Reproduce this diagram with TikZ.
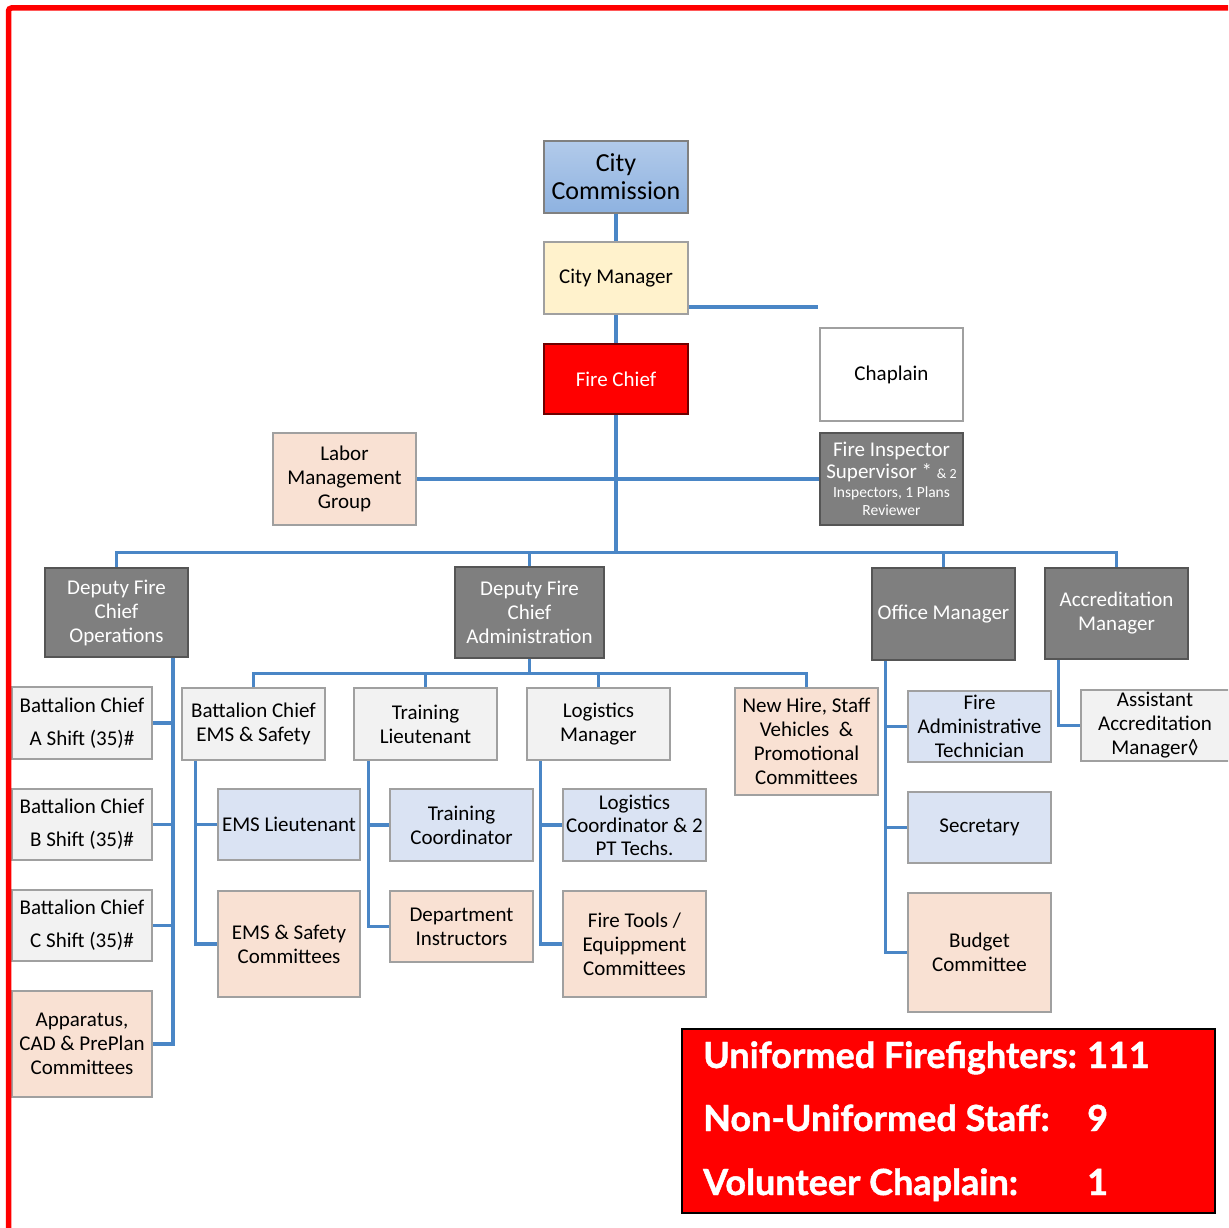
\documentclass[tikz,border=0pt]{standalone}
\usepackage{fontspec}
\setmainfont{Carlito}
\newfontfamily\statfont[FakeBold=1.2]{Lato}
\definecolor{conn}{RGB}{74,134,198}
\definecolor{bxgray}{RGB}{160,160,160}
\definecolor{dkfill}{RGB}{127,127,127}
\definecolor{dkborder}{RGB}{85,85,85}
\definecolor{ltgray}{RGB}{242,242,242}
\definecolor{ltblue}{RGB}{218,227,243}
\definecolor{peach}{RGB}{249,225,211}
\definecolor{cream}{RGB}{255,242,204}
\definecolor{firered}{RGB}{255,0,0}
\definecolor{ccTop}{RGB}{178,202,234}
\definecolor{ccBot}{RGB}{142,178,224}
\begin{document}
\begin{tikzpicture}[x=1pt,y=-1pt,
  box/.style={draw=bxgray, line width=1.5, inner sep=0pt, align=center,
    font=\fontsize{21}{24}\selectfont, text=black},
  sz/.style 2 args={minimum width=#1, minimum height=#2},
  dark/.style={box, fill=dkfill, draw=dkborder, text=white},
  lgray/.style={box, fill=ltgray},
  lblue/.style={box, fill=ltblue},
  pch/.style={box, fill=peach},
  link/.style={draw=conn, line width=3.2},
  stat/.style={anchor=base west, text=white, inner sep=0pt,
    font=\statfont\bfseries\fontsize{36}{38}\selectfont}
]
\useasboundingbox (0,0) rectangle (1228,1228);
\clip (0,0) rectangle (1228,1228);
\fill[white] (0,0) rectangle (1228,1228);

% top chain
\node[box, sz={144}{72}, draw=gray, top color=ccTop, bottom color=ccBot,
  font=\fontsize{26}{28}\selectfont] (cc) at (616,177) {City\\Commission};
\node[box, sz={144}{72}, fill=cream] (cm) at (616,278) {City Manager};
\node[box, sz={144}{70}, fill=firered, draw={rgb,255:red,110;green,0;blue,0}, text=white] (fc) at (616,379) {Fire Chief};
\node[box, sz={143}{93}, fill=white] (chap) at (891.5,374.5) {Chaplain};
\node[dark, sz={143}{92}] (fis) at (891.5,479)
  {Fire Inspector\\[-2pt]Supervisor * {\fontsize{14}{16}\selectfont \& 2}\\[-5pt]
   {\fontsize{15.5}{17}\selectfont Inspectors, 1 Plans}\\[-6pt]{\fontsize{15.5}{17}\selectfont Reviewer}};
\node[pch, sz={143}{92}] (lmg) at (344.5,479) {Labor\\Management\\Group};

% level 2
\node[dark, sz={143}{89}] (dops) at (116.5,612.5) {Deputy Fire\\Chief\\Operations};
\node[dark, sz={149}{91}] (dadm) at (529.5,612.5) {Deputy Fire\\Chief\\Administration};
\node[dark, sz={143}{92}] (om) at (943.5,614) {Office Manager};
\node[dark, sz={143}{91}] (am) at (1116.5,613.5) {Accreditation\\Manager};

% operations children
\node[lgray, sz={140}{72}, font=\fontsize{21}{33}\selectfont] (bca) at (82,723) {Battalion Chief\\A Shift (35)\#};
\node[lgray, sz={140}{71}, font=\fontsize{21}{33}\selectfont] (bcb) at (82,824.5) {Battalion Chief\\B Shift (35)\#};
\node[lgray, sz={140}{71}, font=\fontsize{21}{33}\selectfont] (bcc) at (82,925.5) {Battalion Chief\\C Shift (35)\#};
\node[pch, sz={140}{106}] (app) at (82,1044) {Apparatus,\\CAD \& PrePlan\\Committees};

% administration children
\node[lgray, sz={143}{72}] (bce) at (253.5,724) {Battalion Chief\\EMS \& Safety};
\node[lgray, sz={143}{72}] (tl) at (425.5,724) {Training\\Lieutenant};
\node[lgray, sz={143}{72}] (lm) at (598.5,724) {Logistics\\Manager};
\node[pch, sz={143}{107}] (nh) at (806.5,741.5) {New Hire, Staff\\Vehicles\ \ \&\\Promotional\\Committees};

\node[lblue, sz={142}{71}] (emsl) at (289,824.5) {EMS Lieutenant};
\node[pch, sz={142}{106}] (emsc) at (289,944) {EMS \& Safety\\Committees};
\node[lblue, sz={143}{72}] (tc) at (461.5,825) {Training\\Coordinator};
\node[pch, sz={143}{71}] (di) at (461.5,926.5) {Department\\Instructors};
\node[lblue, sz={143}{72}, font=\fontsize{21}{23}\selectfont] (lc) at (634.5,825) {Logistics\\Coordinator \& 2\\PT Techs.};
\node[pch, sz={143}{106}] (ft) at (634.5,944) {Fire Tools /\\Equippment\\Committees};

% office manager children
\node[lblue, sz={143}{71}] (fat) at (979.5,726.5) {Fire\\Administrative\\Technician};
\node[lblue, sz={143}{71}] (sec) at (979.5,827.5) {Secretary};
\node[pch, sz={143}{119}] (bud) at (979.5,952.5) {Budget\\Committee};

% accreditation child
\node[lgray, sz={148}{71}] (aam) at (1155,725.5) {Assistant\\Accreditation\\Manager◊};

% connectors
\coordinate (cmend) at (818,307);
\draw[link] (cc.south) -- (cm.north);
\draw[link] (cm.south) -- (fc.north);
\draw[link] (cm.east |- cmend) -- (cmend);
\draw[link] (lmg.east) -- (fis.west);
\draw[link] (fc.south) -- ++(0,139);
\draw[link] (dops.north) -- ++(0,-15) -| (am.north);
\draw[link] (dadm.north) -- ++(0,-14);
\draw[link] (om.north) -- ++(0,-15);

\draw[link] ([xshift=56.5]dops.south) |- (app.east);
\draw[link] (bca.east) -- ++(21,0);
\draw[link] (bcb.east) -- ++(21,0);
\draw[link] (bcc.east) -- ++(21,0);

\draw[link] (dadm.south) -- ++(0,16);
\draw[link] (bce.north) -- ++(0,-14) -| (nh.north);
\draw[link] (tl.north) -- ++(0,-14);
\draw[link] (lm.north) -- ++(0,-14);

\draw[link] ([xshift=14]bce.south west) |- (emsc.west);
\draw[link] (emsl.west) -- ++(-22,0);
\draw[link] ([xshift=15]tl.south west) |- (di.west);
\draw[link] (tc.west) -- ++(-21,0);
\draw[link] ([xshift=14]lm.south west) |- (ft.west);
\draw[link] (lc.west) -- ++(-22,0);

\draw[link] ([xshift=14]om.south west) |- (bud.west);
\draw[link] (fat.west) -- ++(-22,0);
\draw[link] (sec.west) -- ++(-22,0);
\draw[link] ([xshift=14]am.south west) |- (aam.west);

% statistics box
\node[draw=black, line width=1.5, fill=firered, minimum width=533, minimum height=184, inner sep=0pt] (stats) at (948.5,1121) {};
\node[stat] (s1) at (703,1068) {Uniformed Firefighters:};
\node[stat] (n1) at (1087,1068) {111};
\node[stat] (s2) at (703,1131) {Non-Uniformed Staff:};
\node[stat] (n2) at (1087,1131) {9};
\node[stat] (s3) at (703,1195) {Volunteer Chaplain:};
\node[stat] (n3) at (1087,1195) {1};

% red frame
\draw[firered, line width=5.5, rounded corners=3] (8.5,1240) -- (8.5,8) -- (1240,8);
\end{tikzpicture}
\end{document}
